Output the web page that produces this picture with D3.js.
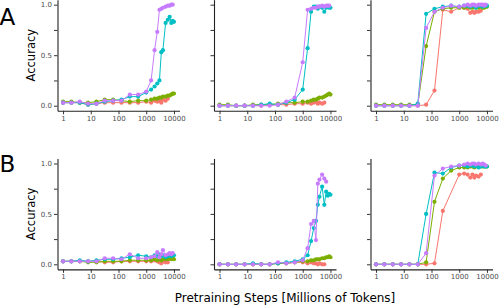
<!DOCTYPE html>
<html lang="en">
<head>
    <meta charset="UTF-8" />
    <title>Accuracy vs pretraining steps</title>
    <script src="https://d3js.org/d3.v7.min.js"></script>
    <style>
        body { margin: 0; background: #fff; }
        text { font-family: "DejaVu Sans", sans-serif; }
    </style>
</head>
<body>
    <script>
        // checkpoints, millions of tokens (shared by every series, arrays may stop early)
        var steps = [1, 2, 4, 8, 16, 32, 64, 128, 256, 512, 1000, 1500, 2000, 2500, 3000, 3500, 4000, 5000, 6000, 7000, 8000, 9000, 10000];
        var colors = ["#F8766D", "#7CAE00", "#00BFC4", "#C77CFF"];
        var xTicks = [1, 10, 100, 1000, 10000];
        var yTicks = [0, 0.25, 0.5, 0.75, 1];
        var rowLabels = ["A", "B"];

        // accuracy per panel: [red, green, cyan, purple]
        var panelA1 = [
            [0.03, 0.03, 0.03, 0.01, 0.02, 0.03, 0.03, 0.03, 0.03, 0.03, 0.04, 0.03, 0.05, 0.04, 0.05, 0.03, 0.06, 0.05, 0.07],
            [0.04, 0.04, 0.03, 0.03, 0.04, 0.06, 0.06, 0.05, 0.04, 0.05, 0.05, 0.06, 0.07, 0.07, 0.08, 0.08, 0.09, 0.09, 0.10, 0.10, 0.11, 0.12, 0.12],
            [0.03, 0.03, 0.03, 0.01, 0.02, 0.04, 0.05, 0.06, 0.09, 0.09, 0.13, 0.16, 0.19, 0.22, 0.25, 0.53, 0.55, 0.82, 0.85, 0.88, 0.82, 0.84, 0.83],
            [0.03, 0.03, 0.04, 0.02, 0.02, 0.05, 0.05, 0.05, 0.11, 0.11, 0.14, 0.25, 0.55, 0.73, 0.95, 0.96, 0.97, 0.98, 0.99, 0.99, 1.0, 1.0]
        ];
        var panelA2 = [
            [0, 0, 0, 0, 0, 0, 0.01, 0.01, 0.01, 0.02, 0.02, 0.03, 0.02, 0.03, 0.04, 0.02, 0.03, 0.02, 0.03],
            [0.01, 0.01, 0, 0, 0.01, 0.01, 0.01, 0.02, 0.03, 0.03, 0.04, 0.04, 0.05, 0.06, 0.06, 0.07, 0.08, 0.08, 0.09, 0.10, 0.11, 0.12, 0.11],
            [0, 0, 0, 0, 0, 0.01, 0.02, 0.01, 0.03, 0.06, 0.16, 0.57, 0.93, 0.98, 0.98, 0.96, 0.98, 0.97, 0.93, 0.97, 0.98, 0.97, 0.97],
            [0, 0, 0, 0, 0, 0, 0, 0.01, 0.04, 0.08, 0.43, 0.95, 0.96, 0.97, 0.97, 0.98, 0.98, 0.99, 0.98, 0.99, 0.99, 0.99]
        ];
        var panelA3 = [
            [0, 0, 0, 0, 0, 0, 0.01, 0.15, 0.95, 0.93, 0.97, 0.97, 0.96, 0.92, 0.93, 0.92, 0.93, 0.93, 0.94],
            [0.01, 0.01, 0.01, 0.01, 0.01, 0.01, 0.59, 0.93, 0.96, 0.97, 0.97, 0.97, 0.98, 0.97, 0.97, 0.98, 0.97, 0.97, 0.98, 0.97, 0.97, 0.98, 0.98],
            [0, 0, 0, 0, 0, 0.02, 0.91, 0.96, 0.98, 0.99, 0.98, 0.99, 0.99, 0.98, 0.99, 0.99, 0.97, 0.99, 0.99, 0.98, 0.99, 0.99, 0.99],
            [0, 0, 0, 0, 0, 0, 0.77, 0.93, 0.97, 0.99, 0.98, 0.99, 1.0, 0.99, 1.0, 1.0, 0.99, 1.0, 1.0, 1.0, 0.99, 1.0]
        ];
        var panelB1 = [
            [0.03, 0.03, 0.03, 0.03, 0.03, 0.02, 0.02, 0.03, 0.03, 0.03, 0.03, 0.03, 0.04, 0.03, 0.02, 0.01, 0.03, 0.02, 0.02],
            [0.03, 0.03, 0.03, 0.02, 0.02, 0.03, 0.03, 0.03, 0.04, 0.04, 0.04, 0.04, 0.05, 0.04, 0.05, 0.04, 0.05, 0.05, 0.05, 0.06, 0.05, 0.06, 0.05],
            [0.03, 0.03, 0.04, 0.03, 0.04, 0.05, 0.05, 0.06, 0.07, 0.09, 0.08, 0.07, 0.09, 0.08, 0.10, 0.08, 0.09, 0.07, 0.08, 0.09, 0.08, 0.09, 0.09],
            [0.03, 0.03, 0.03, 0.03, 0.03, 0.06, 0.06, 0.05, 0.10, 0.06, 0.06, 0.07, 0.08, 0.12, 0.07, 0.10, 0.14, 0.09, 0.10, 0.11, 0.10, 0.11]
        ];
        var panelB2 = [
            [0, 0, 0, 0, 0, 0, 0, 0.01, 0.01, 0.02, 0.02, 0.01, 0.02, 0.01, 0.01, 0, 0.01, 0, 0],
            [0, 0, 0, 0, 0, 0, 0, 0.01, 0.01, 0.02, 0.03, 0.03, 0.04, 0.04, 0.05, 0.05, 0.05, 0.06, 0.06, 0.07, 0.07, 0.08, 0.07],
            [0, 0, 0, 0, 0.01, 0, 0, 0.01, 0.02, 0.03, 0.05, 0.09, 0.23, 0.36, 0.43, 0.59, 0.67, 0.77, 0.59, 0.72, 0.68, 0.70, 0.69],
            [0, 0, 0, 0, 0, 0, 0, 0.02, 0.01, 0.02, 0.04, 0.16, 0.40, 0.43, 0.24, 0.80, 0.84, 0.89, 0.85, 0.82]
        ];
        var panelB3 = [
            [0, 0, 0, 0, 0, 0, 0, 0.01, 0.53, null, 0.89, 0.90, 0.89, 0.86, 0.89, 0.86, 0.88, 0.87, 0.89],
            [0, 0, 0, 0, 0, 0, 0.02, 0.62, 0.85, 0.93, 0.96, 0.96, 0.96, 0.97, 0.97, 0.96, 0.97, 0.97, 0.97, 0.97, 0.97, 0.97, 0.97],
            [0, 0, 0, 0, 0, 0, 0.50, 0.91, 0.90, 0.96, 0.98, 0.98, 0.97, 0.98, 0.98, 0.97, 0.98, 0.96, 0.97, 0.98, 0.97, 0.97, 0.97],
            [0, 0, 0, 0, 0, 0, 0.11, 0.88, 0.95, 0.97, 0.98, 0.99, 1.0, 0.99, 1.0, 1.0, 0.99, 1.0, 0.99, 1.0, 0.99, 0.98]
        ];
        var panels = [[panelA1, panelA2, panelA3], [panelB1, panelB2, panelB3]];

        var w = 499;
        var h = 306;
        var panelW = 122;
        var lefts = [57.5, 214, 370.5];
        var rowBox = [[-0.35, 110.75], [158.45, 269.35]]; // top, bottom

        var svg = d3.select("body")
            .append("svg")
            .attr("width", w)
            .attr("height", h);

        panels.forEach(function(row, r) {
            var yScale = d3.scaleLinear()
                .domain([-0.05, 1.05])
                .range([rowBox[r][1], rowBox[r][0]]);

            row.forEach(function(series, c) {
                var xScale = d3.scaleLog()
                    .domain([Math.pow(10, -0.2), Math.pow(10, 4.2)])
                    .range([lefts[c], lefts[c] + panelW]);

                var g = svg.append("g");

                // x axis
                var xAxis = g.append("g")
                    .attr("transform", "translate(0," + rowBox[r][1] + ")")
                    .call(d3.axisBottom(xScale)
                        .tickValues(xTicks)
                        .tickFormat(d3.format("d"))
                        .tickSize(3.5)
                        .tickSizeOuter(0)
                        .tickPadding(1.5));

                // y axis, labels only on first column
                var yAxis = g.append("g")
                    .attr("transform", "translate(" + lefts[c] + ",0)")
                    .call(d3.axisLeft(yScale)
                        .tickValues(yTicks)
                        .tickFormat(function(d) {
                            return (c === 0 && (d * 2) % 1 === 0) ? d3.format(".1f")(d) : "";
                        })
                        .tickSize(3.5)
                        .tickSizeOuter(0)
                        .tickPadding(2));

                [xAxis, yAxis].forEach(function(ax) {
                    ax.select(".domain").attr("stroke", "#222").attr("stroke-width", 1.1);
                    ax.selectAll(".tick line").attr("stroke", "#333").attr("stroke-width", 1);
                    ax.selectAll(".tick text")
                        .attr("fill", "#4d4d4d")
                        .style("font-family", "DejaVu Sans")
                        .style("font-size", "7px");
                });

                var line = d3.line()
                    .x(function(d) { return xScale(d.x); })
                    .y(function(d) { return yScale(d.y); });

                series.forEach(function(vals, s) {
                    var pts = [];
                    vals.forEach(function(v, i) {
                        if (v !== null) pts.push({ x: steps[i], y: v });
                    });

                    g.append("path")
                        .datum(pts)
                        .attr("d", line)
                        .attr("fill", "none")
                        .attr("stroke", colors[s])
                        .attr("stroke-width", 1);

                    g.selectAll(null)
                        .data(pts)
                        .enter()
                        .append("circle")
                        .attr("cx", function(d) { return xScale(d.x); })
                        .attr("cy", function(d) { return yScale(d.y); })
                        .attr("r", 2.1)
                        .attr("fill", colors[s]);
                });
            });

            // y title
            var mid = (yScale(0) + yScale(1)) / 2;
            svg.append("text")
                .attr("transform", "translate(34.5," + mid + ") rotate(-90)")
                .attr("text-anchor", "middle")
                .style("font-size", "11.5px")
                .attr("fill", "#000")
                .text("Accuracy");

            // row tag
            svg.append("text")
                .attr("x", -0.5)
                .attr("y", r === 0 ? 25 : 172.3)
                .style("font-size", "23px")
                .attr("fill", "#000")
                .text(rowLabels[r]);
        });

        // x title
        svg.append("text")
            .attr("x", 285)
            .attr("y", 302)
            .attr("text-anchor", "middle")
            .style("font-size", "12px")
            .attr("fill", "#000")
            .text("Pretraining Steps [Millions of Tokens]");
    </script>
</body>
</html>
